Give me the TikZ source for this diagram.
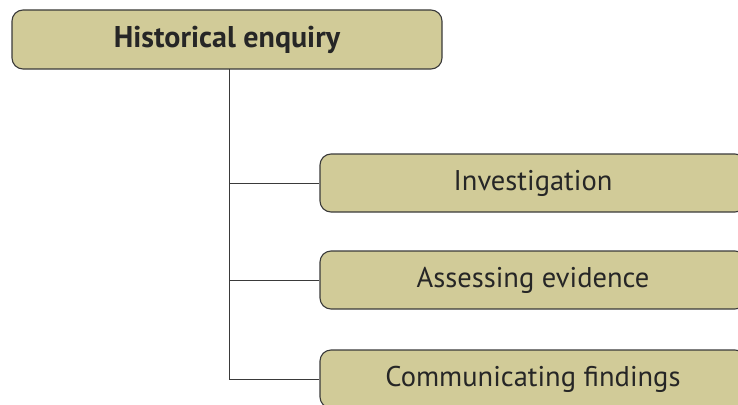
\documentclass[tikz,border=0pt]{standalone}
\usepackage{fontspec}
\setmainfont{PT Sans}
\usepackage{xcolor}
\usetikzlibrary{positioning}
\definecolor{khaki}{HTML}{D1CB98}
\definecolor{edgegray}{HTML}{3A3A3A}

\begin{document}
\begin{tikzpicture}[x=1pt, y=-1pt,
  box/.style={draw=edgegray, line width=1.1pt, fill=khaki, rounded corners=11pt, inner sep=0pt, text=black!85},
  rootbox/.style={box, minimum width=430pt, minimum height=59pt, font=\fontsize{30}{34}\selectfont\bfseries},
  leafbox/.style={box, minimum width=426pt, minimum height=58pt, font=\fontsize{28.5}{32}\selectfont},
  link/.style={draw=edgegray, line width=0.9pt}]
\useasboundingbox (0,0) rectangle (738,404);
\clip (0,0) rectangle (738,404);
% boxes
\node[rootbox] (root) at (227,39.5) {Historical enquiry};
\node[leafbox] (inv) at (533,183) {Investigation};
\node[leafbox] (ass) at (533,280) {Assessing evidence};
\node[leafbox] (com) at (533,379) {Communicating findings};
% tree lines
\coordinate (trunk) at (229,69);
\draw[link] (trunk) |- (com.west);
\draw[link] (trunk |- inv.west) -- (inv.west);
\draw[link] (trunk |- ass.west) -- (ass.west);
\end{tikzpicture}
\end{document}
